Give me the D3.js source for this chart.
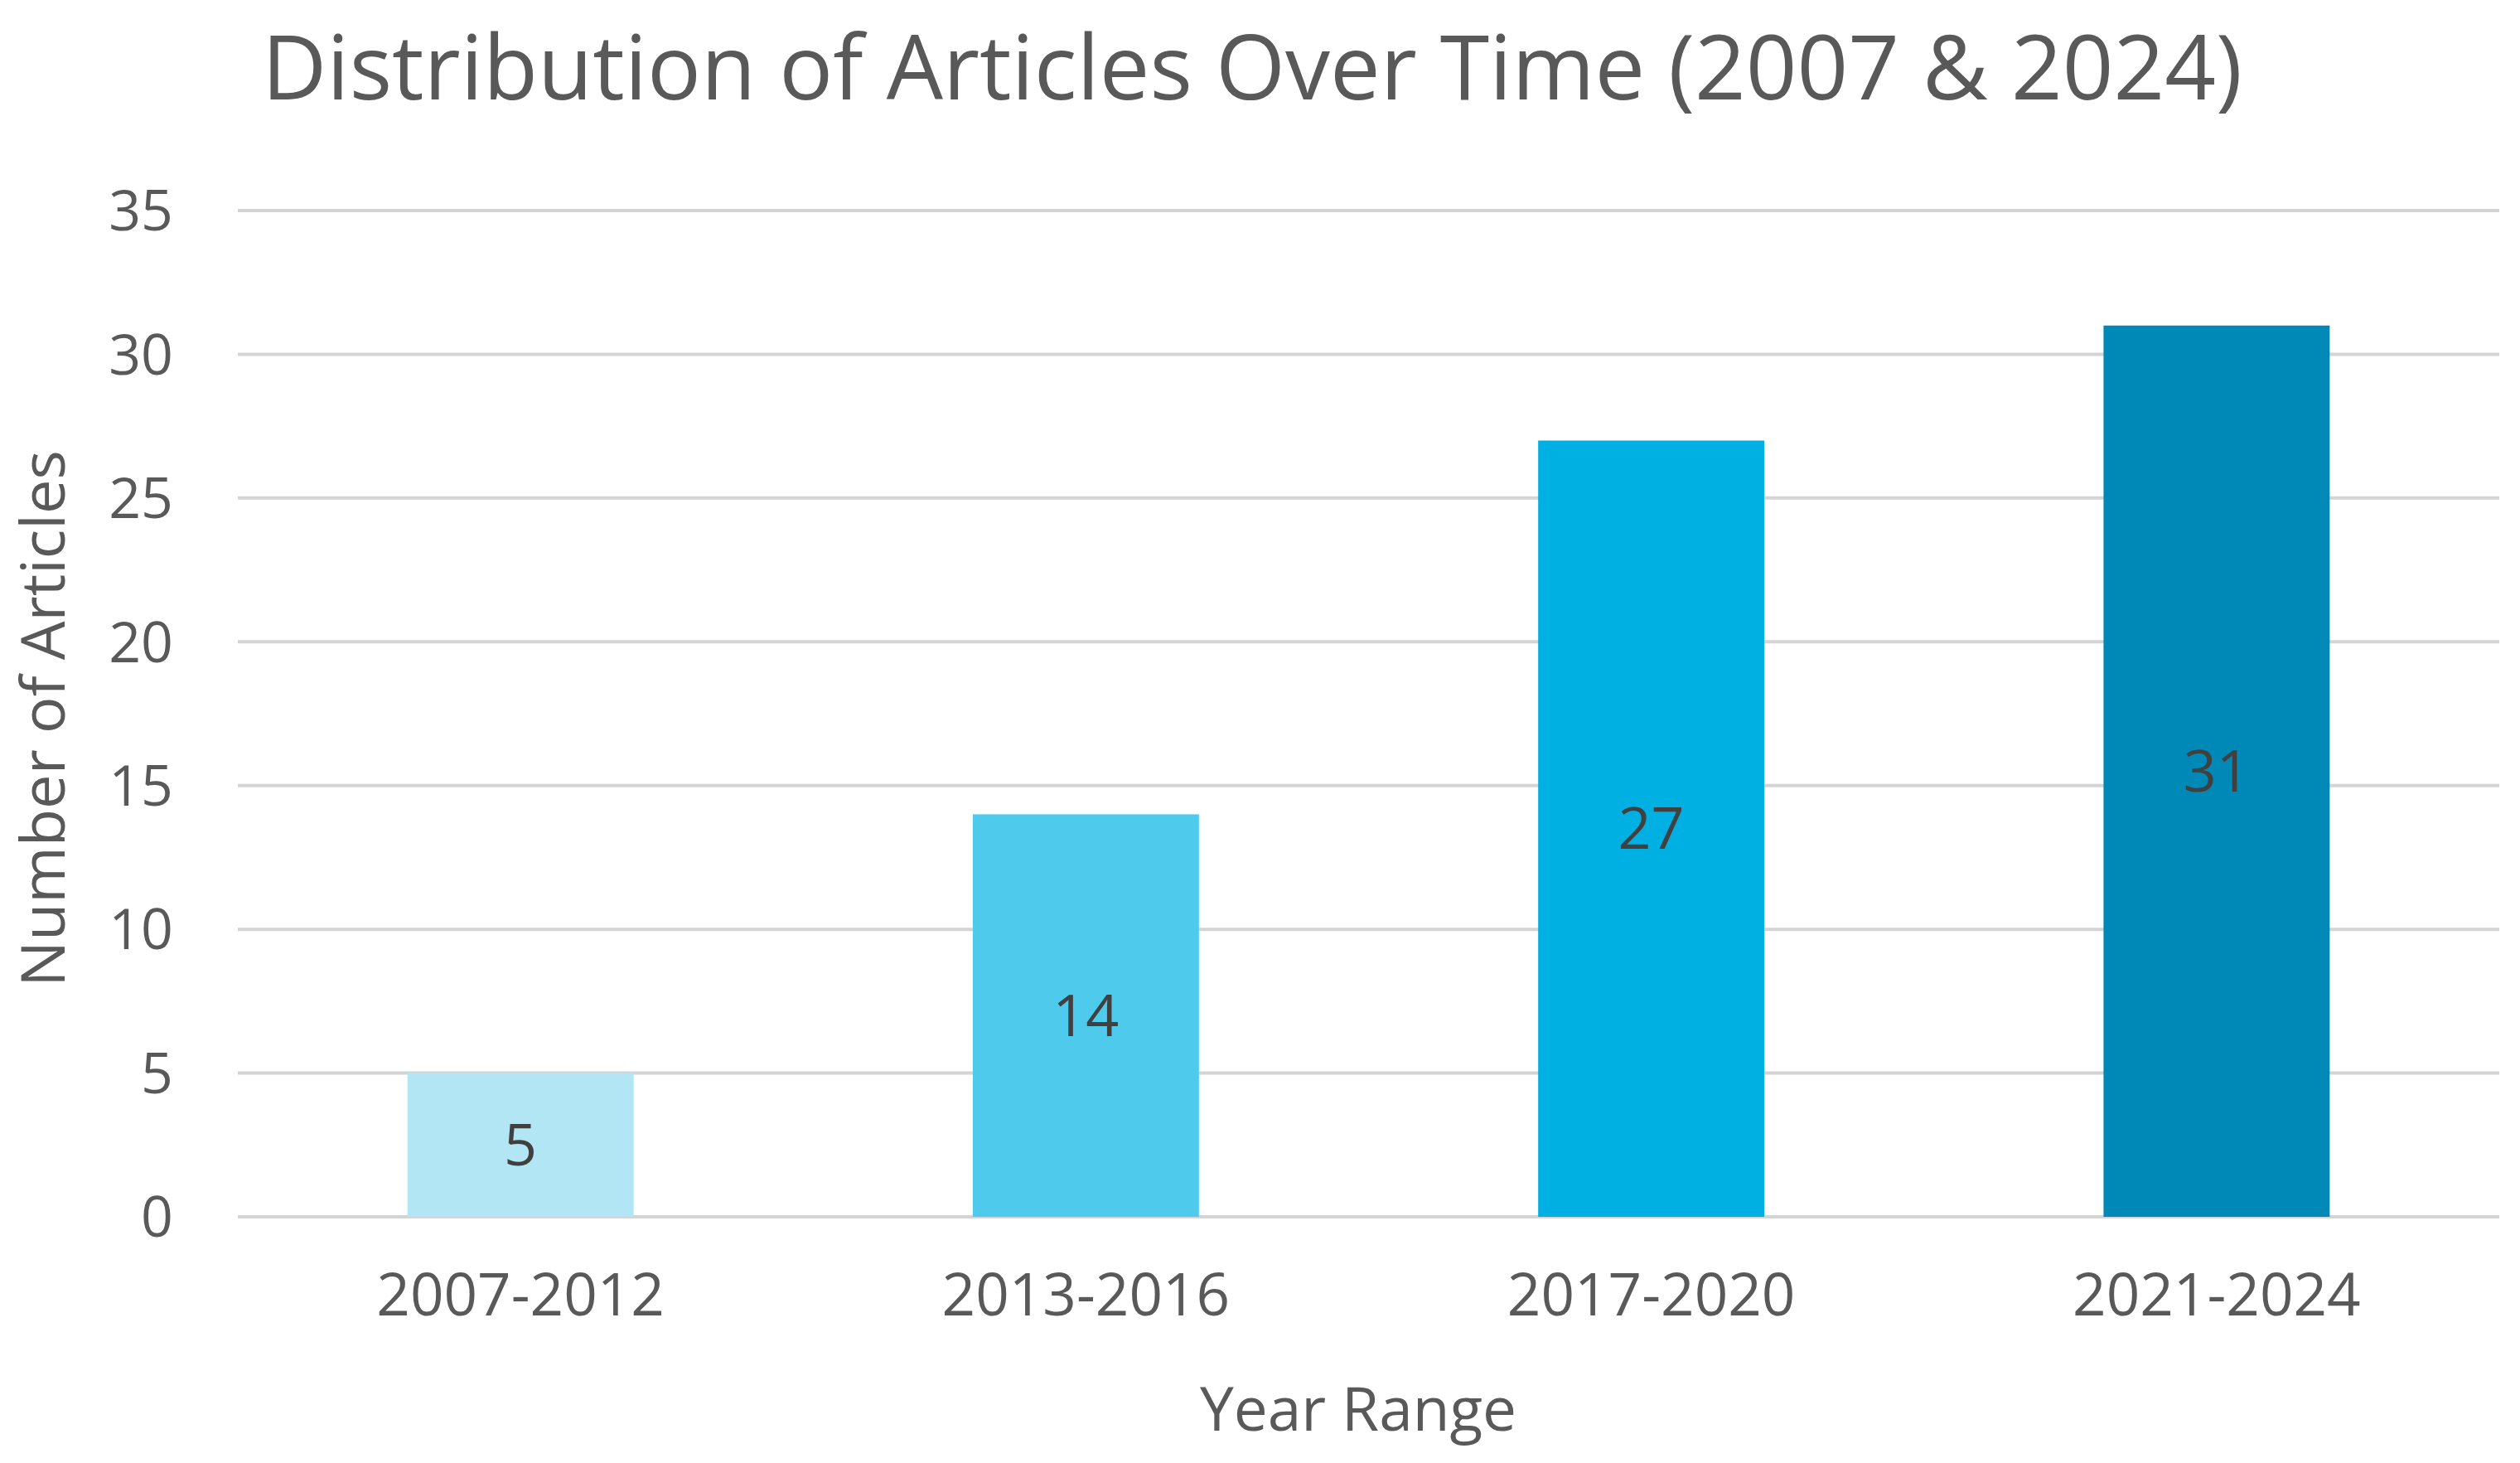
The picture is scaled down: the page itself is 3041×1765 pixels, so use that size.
<!DOCTYPE html>
<html><head><meta charset="utf-8">
<script src="https://cdn.jsdelivr.net/npm/d3@7"></script>
<style>html,body{margin:0;padding:0;background:#fff;}svg{display:block;}</style>
</head><body>
<script>
const categories = ["2007-2012", "2013-2016", "2017-2020", "2021-2024"];
const values = [5, 14, 27, 31];
const barColors = ["#b2e6f5", "#4ecbec", "#00b0e3", "#0089b7"];
const yTicks = [0, 5, 10, 15, 20, 25, 30, 35];
const titleText = "Distribution of Articles Over Time (2007 & 2024)";
const xTitle = "Year Range";
const yTitle = "Number of Articles";

const W = 3041, H = 1765;
const m = {left: 287, right: 25, top: 254, bottom: 297};
const font = "'Open Sans', 'Liberation Sans', sans-serif";
const txt = "#595959";

const svg = d3.select("body").append("svg").attr("width", W).attr("height", H);

const x = d3.scaleBand().domain(categories).range([m.left, W - m.right]).paddingInner(0.6).paddingOuter(0.3);
const y = d3.scaleLinear().domain([0, 35]).range([H - m.bottom, m.top]);

// gridlines
svg.append("g").selectAll("line").data(yTicks).join("line")
  .attr("x1", m.left).attr("x2", W - m.right)
  .attr("y1", d => y(d)).attr("y2", d => y(d))
  .attr("stroke", "#d4d4d4").attr("stroke-width", 4);

// y axis labels
const ya = svg.append("g").attr("transform", `translate(${m.left - 78},0)`)
  .call(d3.axisLeft(y).tickValues(yTicks).tickSize(0).tickPadding(0));
ya.select(".domain").remove();
ya.selectAll("text").attr("font-family", font).attr("font-size", 68).attr("fill", txt)
  .attr("dy", "0.35em").attr("text-anchor", "end");

// x axis labels
const xa = svg.append("g").attr("transform", `translate(0,${H - m.bottom})`)
  .call(d3.axisBottom(x).tickSize(0).tickPadding(0));
xa.select(".domain").remove();
xa.selectAll("text").attr("font-family", font).attr("font-size", 71).attr("fill", txt)
  .attr("y", 119).attr("dy", 0);

// bars
svg.append("g").selectAll("rect").data(values).join("rect")
  .attr("x", (d, i) => x(categories[i]))
  .attr("width", x.bandwidth())
  .attr("y", d => y(d))
  .attr("height", d => y(0) - y(d))
  .attr("fill", (d, i) => barColors[i]);

// data labels
svg.append("g").selectAll("text").data(values).join("text")
  .attr("x", (d, i) => x(categories[i]) + x.bandwidth() / 2)
  .attr("y", d => (y(d) + y(0)) / 2)
  .attr("dy", "0.35em")
  .attr("text-anchor", "middle")
  .attr("font-family", font).attr("font-size", 70).attr("fill", "#404040")
  .text(d => d);

// title
svg.append("text").attr("x", 316).attr("y", 120)
  .attr("font-family", font).attr("font-size", 108).attr("fill", txt)
  .text(titleText);

// x title
svg.append("text").attr("x", 1639).attr("y", 1726).attr("text-anchor", "middle")
  .attr("font-family", font).attr("font-size", 73).attr("fill", txt)
  .text(xTitle);

// y title
svg.append("text").attr("transform", `translate(78,${(y(0) + y(35)) / 2 + 6}) rotate(-90)`)
  .attr("text-anchor", "middle")
  .attr("font-family", font).attr("font-size", 74).attr("fill", txt)
  .text(yTitle);
</script>
</body></html>
